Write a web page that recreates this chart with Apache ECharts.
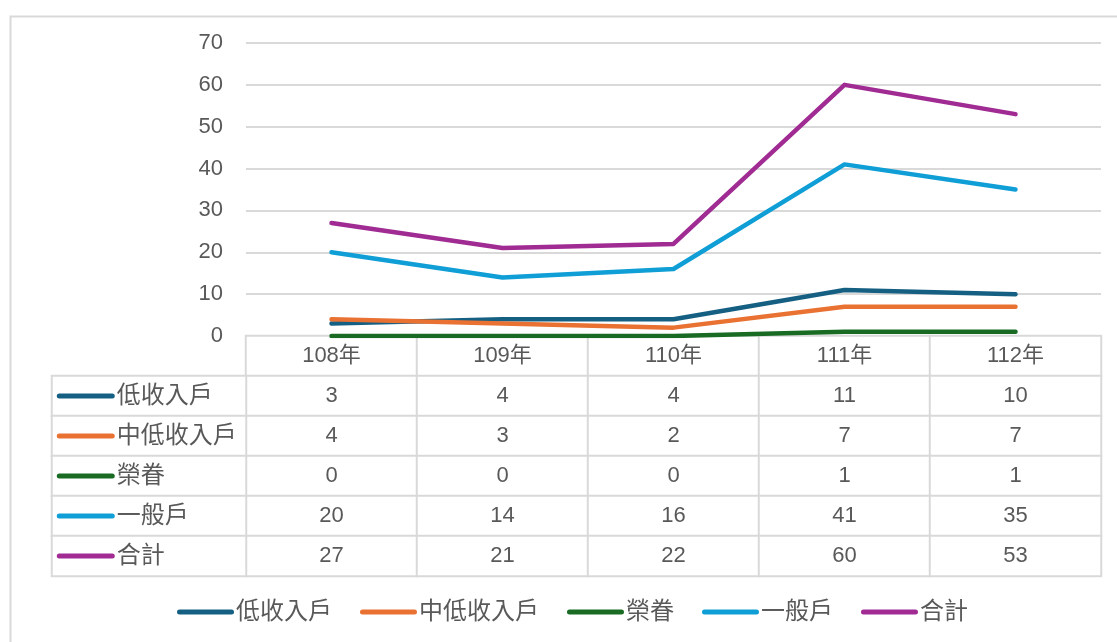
<!DOCTYPE html>
<html>
<head>
<meta charset="utf-8">
<script src="https://cdn.jsdelivr.net/npm/echarts@6/dist/echarts.min.js"></script>
<style>
  html, body { margin: 0; padding: 0; background: #fff; }
  #chart { width: 1117px; height: 642px; }
</style>
</head>
<body>
<div id="chart"></div>
<script>
// 低收入戶等 各年度人數 — 折線圖 + 資料表

const years = ['108年', '109年', '110年', '111年', '112年'];
const names = ['低收入戶', '中低收入戶', '榮眷', '一般戶', '合計'];
const lowIncome = [3, 4, 4, 11, 10];
const midLowIncome = [4, 3, 2, 7, 7];
const veterans = [0, 0, 0, 1, 1];
const general = [20, 14, 16, 41, 35];
const total = [27, 21, 22, 60, 53];
const yMin = 0, yMax = 70, yStep = 10;

const COLORS = ['#156082', '#E97132', '#196B24', '#0F9ED5', '#A02B93'];
const TEXT = '#595959';
const BORDER = '#d9d9d9';
const FONT = '"Liberation Sans", "Noto Sans CJK TC", sans-serif';

const rows = [lowIncome, midLowIncome, veterans, general, total];

// 資料表: 第 0 列為年度表頭, 其後每列一個系列
const tableCells = [];
years.forEach((y, j) => tableCells.push([j, 0, 0]));
rows.forEach((r, i) => r.forEach((v, j) => tableCells.push([j, i + 1, v])));

// 左側圖例欄
const keyCells = names.map((n, i) => [0, i, i]);
const keyRich = { t: { fontSize: 24, color: TEXT, fontFamily: FONT, verticalAlign: 'middle', padding: [0, 0, 0, 2] } };
COLORS.forEach((c, i) => {
  keyRich['k' + i] = { width: 58, height: 5, backgroundColor: c, borderRadius: 2.5, verticalAlign: 'middle' };
});

const legendIcon = 'path://M2.5,0H54.5A2.5,2.5,0,0,1,54.5,5H2.5A2.5,2.5,0,0,1,2.5,0Z';

const chart = echarts.init(document.getElementById('chart'), null, { renderer: 'canvas' });

chart.setOption({
  backgroundColor: '#fff',
  animation: false,
  textStyle: { fontFamily: FONT },
  graphic: [{
    type: 'rect', left: 8, top: 14, silent: true,
    shape: { width: 1200, height: 700 },
    style: { fill: 'none', stroke: BORDER, lineWidth: 2 },
  }],
  legend: {
    left: 172, top: 595,
    itemWidth: 57, itemHeight: 5, itemGap: 28,
    icon: legendIcon,
    textStyle: { fontSize: 24, color: TEXT, fontFamily: FONT, padding: [0, 0, 0, -3] },
    data: names,
  },
  grid: [
    { left: 246, right: 16, top: 43, height: 293 },
    { left: 246, right: 16, top: 336, height: 240 },
    { left: 52, width: 194, top: 376, height: 200 },
  ],
  xAxis: [
    {
      gridIndex: 0, type: 'category', data: years, boundaryGap: true,
      axisLine: { show: true, lineStyle: { color: BORDER, width: 2 } },
      axisTick: { show: false }, axisLabel: { show: false },
    },
    {
      gridIndex: 1, type: 'category', data: years,
      axisLine: { show: false }, axisTick: { show: false }, axisLabel: { show: false },
    },
    {
      gridIndex: 2, type: 'category', data: [''],
      axisLine: { show: false }, axisTick: { show: false }, axisLabel: { show: false },
    },
  ],
  yAxis: [
    {
      gridIndex: 0, type: 'value', min: yMin, max: yMax, interval: yStep,
      axisLine: { show: false }, axisTick: { show: false },
      axisLabel: { fontSize: 22, color: TEXT, margin: 23, fontFamily: FONT },
      splitLine: { lineStyle: { color: BORDER, width: 2 } },
    },
    {
      gridIndex: 1, type: 'category', inverse: true, data: ['hdr'].concat(names),
      axisLine: { show: false }, axisTick: { show: false }, axisLabel: { show: false },
    },
    {
      gridIndex: 2, type: 'category', inverse: true, data: names,
      axisLine: { show: false }, axisTick: { show: false }, axisLabel: { show: false },
    },
  ],
  series: names.map((n, i) => ({
    name: n, type: 'line', xAxisIndex: 0, yAxisIndex: 0,
    data: rows[i], symbol: 'none', smooth: false,
    color: COLORS[i],
    lineStyle: { width: 4.5, color: COLORS[i], cap: 'round', join: 'round' },
    emphasis: { disabled: true },
  })).concat([
    {
      type: 'heatmap', xAxisIndex: 1, yAxisIndex: 1, data: tableCells,
      itemStyle: { color: '#fff', borderColor: BORDER, borderWidth: 2 },
      label: {
        show: true, fontSize: 22, color: TEXT, fontFamily: FONT,
        formatter: (p) => p.value[1] === 0 ? years[p.value[0]] : String(p.value[2]),
      },
      emphasis: { disabled: true }, silent: true,
    },
    {
      type: 'heatmap', xAxisIndex: 2, yAxisIndex: 2, data: keyCells,
      itemStyle: { color: '#fff', borderColor: BORDER, borderWidth: 2 },
      label: {
        show: true, position: 'insideLeft', distance: 6,
        formatter: (p) => `{k${p.value[2]}|}{t|${names[p.value[2]]}}`,
        rich: keyRich,
      },
      emphasis: { disabled: true }, silent: true,
    },
  ]),
});

window.addEventListener('resize', () => chart.resize());
</script>
</body>
</html>
